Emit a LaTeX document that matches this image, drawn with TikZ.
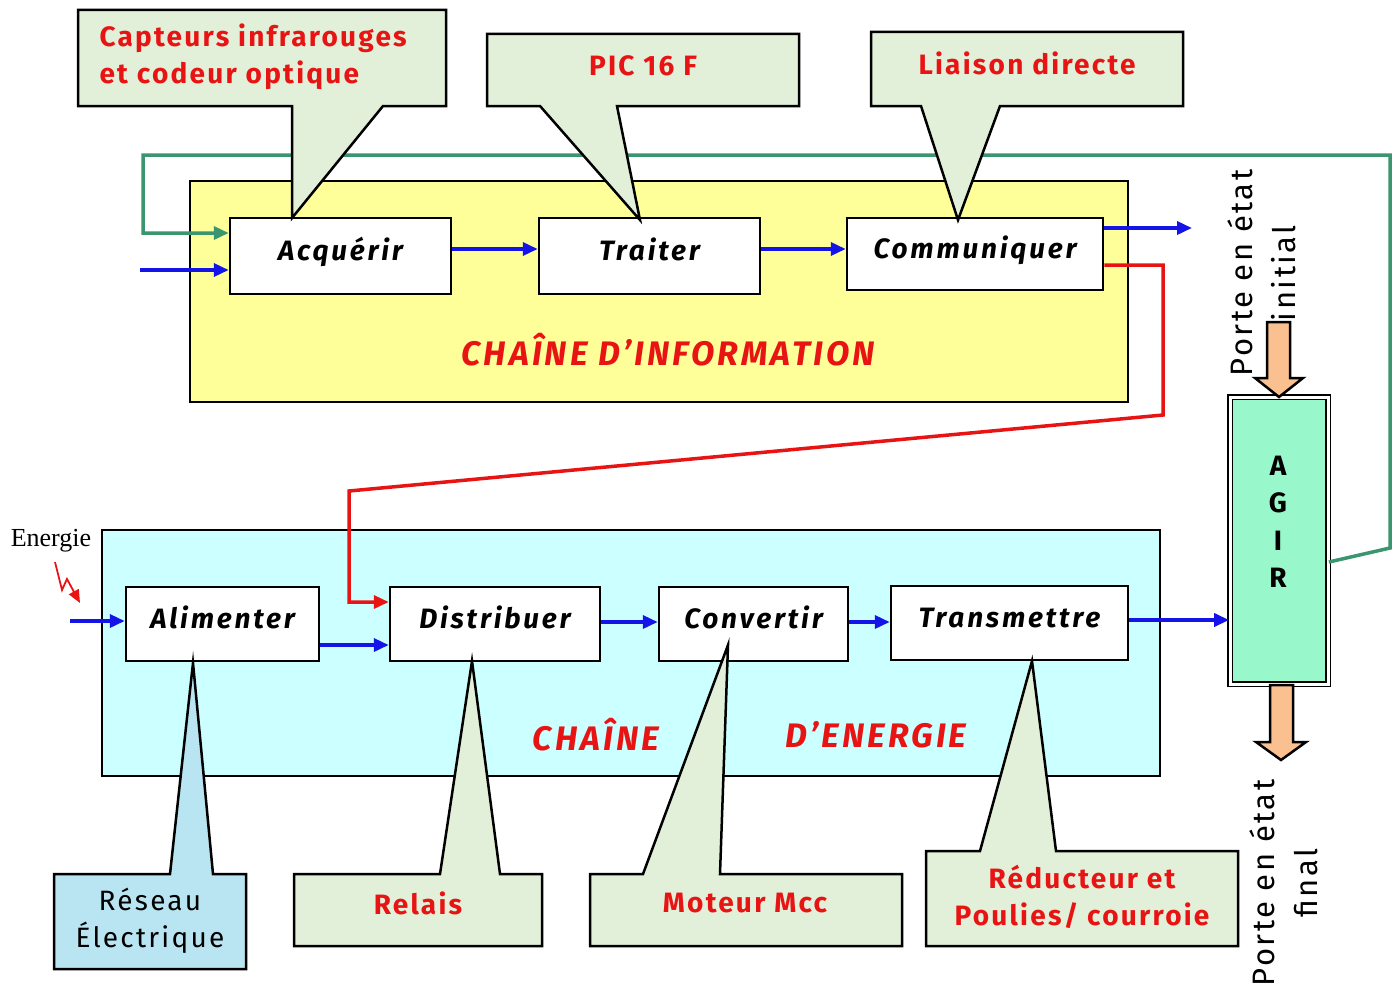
\documentclass[tikz,border=0pt]{standalone}
\usepackage{fontspec}
\setmainfont{Fira Sans}[LetterSpace=8]
\newfontfamily\serifE{Liberation Serif}
\usetikzlibrary{arrows.meta,calc}
\definecolor{cyellow}{RGB}{255,255,153}
\definecolor{ccyan}{RGB}{204,255,255}
\definecolor{ccall}{RGB}{226,240,217}
\definecolor{cblu}{RGB}{185,228,242}
\definecolor{cagir}{RGB}{153,247,204}
\definecolor{corange}{RGB}{250,192,144}
\definecolor{cgreen}{RGB}{58,150,110}
\definecolor{cred}{RGB}{232,20,20}
\definecolor{cbl}{RGB}{20,20,232}
\begin{document}
\begin{tikzpicture}[x=1pt,y=-1pt,
  proc/.style={draw=black, fill=white, line width=2.5pt, inner sep=0pt,
    text height=20pt, text depth=12pt,
    font=\fontsize{28}{32}\selectfont\bfseries\itshape\addfontfeature{LetterSpace=10}},
  lbl/.style={text=cred, font=\fontsize{28}{37}\selectfont\bfseries, align=center},
  chain/.style={text=cred, font=\fontsize{34}{36}\selectfont\bfseries\itshape\addfontfeature{LetterSpace=9}},
  callout/.style={draw=black, fill=ccall, line width=2.5pt, line join=miter},
  container/.style={draw=black, line width=2.5pt},
  arr/.style={cbl, line width=3.5pt, -{Triangle[length=15pt,width=13pt]}},
  redarr/.style={cred, line width=3.5pt, -{Triangle[length=15pt,width=13pt]}},
  greenarr/.style={cgreen, line width=3.5pt, -{Triangle[length=15pt,width=13pt]}},
  bigarrow/.style={draw=black, fill=corange, line width=2.5pt, line join=miter},
  side/.style={align=center, font=\fontsize{31}{43}\selectfont, rotate=90}
]
\useasboundingbox (0,0) rectangle (1399,990);

% containers
\fill[white] (0,0) rectangle (1399,990);
\draw[container, fill=cyellow] (190,181) rectangle (1128,402);
\draw[container, fill=ccyan] (102,530) rectangle (1160,776);

% process boxes
\node[proc, minimum width=221pt, minimum height=76pt] (acq) at (340.5,256) {Acquérir};
\node[proc, minimum width=221pt, minimum height=76pt] (trai) at (649.5,256) {Traiter};
\node[proc, minimum width=256pt, minimum height=72pt] (comm) at (975,254) {Communiquer};
\node[proc, minimum width=193pt, minimum height=74pt] (alim) at (222.5,624) {Alimenter};
\node[proc, minimum width=210pt, minimum height=74pt] (dist) at (495,624) {Distribuer};
\node[proc, minimum width=189pt, minimum height=74pt] (conv) at (753.5,624) {Convertir};
\node[proc, minimum width=237pt, minimum height=74pt] (trans) at (1009.5,623) {Transmettre};

% AGIR
\node[draw=black, line width=1.8pt, double=white, double distance=3pt, fill=cagir,
      minimum width=98pt, minimum height=287pt, inner sep=0pt] (agir) at (1279,540.5) {};
\node[font=\fontsize{28}{37.5}\selectfont\bfseries, align=center] (agirtxt) at (1278,522) {A\\G\\I\\R};

% chain titles
\node[chain] (tinfo) at (668,350) {CHAÎNE D’INFORMATION};
\node[chain] (tch) at (596,735) {CHAÎNE};
\node[chain] (ten) at (876,735) {D’ENERGIE};

% green feedback
\coordinate (gA) at (1331,562);
\coordinate (g1) at (1390,548);
\coordinate (g2) at (1390,155);
\coordinate (g3) at (143,155);
\coordinate (g4) at (143,233);
\draw[greenarr, line join=miter] (gA -| agir.east) -- (g1) -- (g2) -- (g3) -- (g4) -- (g4 -| acq.west);

% blue arrows (information chain)
\coordinate (inA) at (140,270);
\draw[arr] (inA) -- (inA -| acq.west);
\draw[arr] ([yshift=7pt]acq.east) -- ([yshift=7pt]trai.west);
\draw[arr] ([yshift=7pt]trai.east) -- ([yshift=7pt]trai.east -| comm.west);
\coordinate (outC) at (1192,228);
\draw[arr] (outC -| comm.east) -- (outC);

% red order
\coordinate (r1) at (1163,265);
\coordinate (r2) at (1163,415);
\coordinate (r3) at (349,491);
\coordinate (r4) at (349,602);
\draw[redarr, line join=miter] (r1 -| comm.east) -- (r1) -- (r2) -- (r3) -- (r4) -- (r4 -| dist.west);

% energy chain arrows
\coordinate (eIn) at (70,621);
\draw[arr] (eIn) -- (eIn -| alim.west);
\coordinate (ad) at (319,645);
\draw[arr] (ad -| alim.east) -- (ad -| dist.west);
\coordinate (dc) at (600,622);
\draw[arr] (dc -| dist.east) -- (dc -| conv.west);
\draw[arr] (dc -| conv.east) -- (dc -| trans.west);
\coordinate (ta) at (1128,620);
\draw[arr] (ta -| trans.east) -- (ta -| agir.west);

% Energie
\node[font=\serifE\fontsize{26}{28}\selectfont] (energ) at (51,541) {Energie};
\coordinate (z0) at (55,562);
\coordinate (z1) at (62,590);
\coordinate (z2) at (67,579);
\coordinate (z3) at (80,603);
\draw[cred, line width=1.8pt, line join=miter, -{Triangle[length=13pt,width=11pt]}] (z0) -- (z1) -- (z2) -- (z3);

% orange arrows
\draw[bigarrow] (1267,322) -- (1290,322) -- (1290,378) -- (1303,378) -- (1279,397) -- (1255,378) -- (1267,378) -- cycle;
\draw[bigarrow] (1270,685) -- (1293,685) -- (1293,742) -- (1306,742) -- (1281,760) -- (1256,742) -- (1270,742) -- cycle;
\node[side] (pinit) at (1262,273) {Porte en état\\initial};
\node[side] (pfin) at (1284,883) {Porte en état\\final};

% top callouts
\draw[callout] (78,10) -- (446,10) -- (446,106) -- (383,106) -- (292,218) -- (292,106) -- (78,106) -- cycle;
\draw[callout] (487,34) -- (799,34) -- (799,106) -- (617,106) -- (640,220) -- (540,106) -- (487,106) -- cycle;
\draw[callout] (871,32) -- (1183,32) -- (1183,106) -- (1000,106) -- (958,220) -- (921,106) -- (871,106) -- cycle;
\node[lbl, align=left, anchor=west] (c1) at (96,57) {Capteurs infrarouges\\et codeur optique};
\node[lbl] (c2) at (643,66) {PIC 16 F};
\node[lbl] (c3) at (1027,63) {Liaison directe};

% bottom callouts
\draw[callout, fill=cblu] (54,874) -- (170,874) -- (193,663) -- (213,874) -- (246,874) -- (246,969) -- (54,969) -- cycle;
\draw[callout] (294,874) -- (440,874) -- (472,661) -- (500,874) -- (542,874) -- (542,946) -- (294,946) -- cycle;
\draw[callout] (590,874) -- (643,874) -- (728,645) -- (720,874) -- (902,874) -- (902,946) -- (590,946) -- cycle;
\draw[callout] (926,851) -- (980,851) -- (1032,661) -- (1056,851) -- (1238,851) -- (1238,946) -- (926,946) -- cycle;
\node[font=\fontsize{28}{37}\selectfont, align=center] (c4) at (150,921) {Réseau\\Électrique};
\node[lbl] (c5) at (418,903) {Relais};
\node[lbl] (c6) at (745,903) {Moteur Mcc};
\node[lbl] (c7) at (1082,897) {Réducteur et\\Poulies/ courroie};
\end{tikzpicture}
\end{document}
